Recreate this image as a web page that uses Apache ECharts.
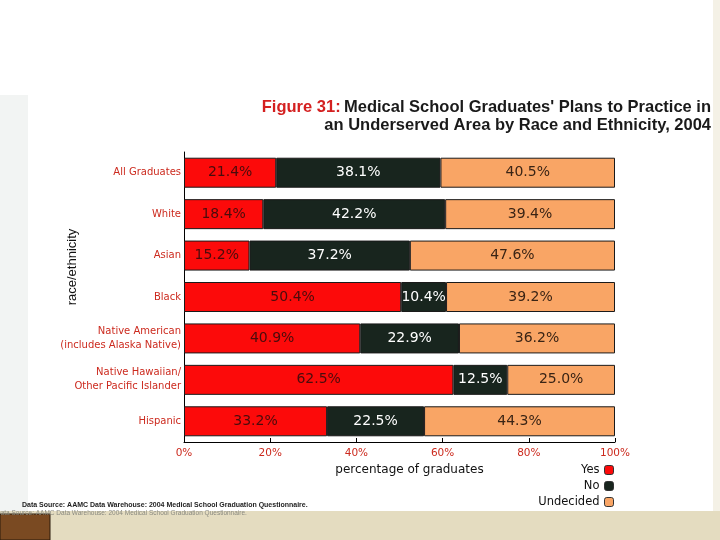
<!DOCTYPE html>
<html><head><meta charset="utf-8">
<script src="https://cdn.jsdelivr.net/npm/echarts@6/dist/echarts.min.js"></script>
<style>html,body{margin:0;padding:0;background:#fff}#c{width:720px;height:540px}</style>
</head><body><div id="c"></div>
<script>
var categories = ['All Graduates','White','Asian','Black','Native American\n(includes Alaska Native)','Native Hawaiian/\nOther Pacific Islander','Hispanic'];
var yesValues = [21.4, 18.4, 15.2, 50.4, 40.9, 62.5, 33.2];
var noValues = [38.1, 42.2, 37.2, 10.4, 22.9, 12.5, 22.5];
var undecidedValues = [40.5, 39.4, 47.6, 39.2, 36.2, 25.0, 44.3];
var seriesNames = ['Yes','No','Undecided'];
var xTicks = [0, 20, 40, 60, 80, 100];

var chart = echarts.init(document.getElementById('c'));
var FONT = 'DejaVu Sans';
function mk(name, data, color, labelColor) {
  return {
    name: name, type: 'bar', stack: 'all', data: data, barWidth: 30,
    itemStyle: { color: color, borderColor: '#1a1a1a', borderWidth: 1 },
    label: { show: true, position: 'inside', color: labelColor, fontFamily: FONT, fontSize: 14,
      formatter: function (p) { return p.value.toFixed(1) + '%'; } }
  };
}
var titleFont = { fontFamily: 'Liberation Sans', fontWeight: 'bold', fontSize: 16.5 };
chart.setOption({
  animation: false,
  backgroundColor: '#ffffff',
  graphic: [
    { type: 'rect', shape: { x: 0, y: 95, width: 28, height: 416 }, style: { fill: '#f2f4f3' }, z: -10 },
    { type: 'rect', shape: { x: 713, y: 0, width: 7, height: 540 }, style: { fill: '#f4f1e6' }, z: -10 },
    { type: 'rect', shape: { x: 0, y: 511, width: 720, height: 29 }, style: { fill: '#e4dcc0' }, z: -10 },
    { type: 'rect', shape: { x: 0, y: 514, width: 50, height: 26 }, style: { fill: '#7a4a22', stroke: '#2a1a0a', lineWidth: 1 }, z: -9 },
    { type: 'text', left: 22, top: 502, style: { text: 'Data Source: AAMC Data Warehouse: 2004 Medical School Graduation Questionnaire.', fontFamily: 'Liberation Sans Narrow, Liberation Sans', fontSize: 7, fontWeight: 'bold', fill: '#222' } },
    { type: 'text', left: -4, top: 510, style: { text: 'Data Source: AAMC Data Warehouse: 2004 Medical School Graduation Questionnaire.', fontFamily: 'Liberation Sans Narrow, Liberation Sans', fontSize: 6.5, fill: '#8a8a80' } },
    { type: 'text', right: 9, top: 99, style: {
      text: '{r|Figure 31:} {b|Medical School Graduates\' Plans to Practice in}',
      rich: { r: Object.assign({ fill: '#d42020' }, titleFont), b: Object.assign({ fill: '#1a1a1a' }, titleFont) } } },
    { type: 'text', right: 9, top: 117, style: Object.assign({
      text: 'an Underserved Area by Race and Ethnicity, 2004', fill: '#1a1a1a' }, titleFont) }
  ],
  grid: { left: 184, right: 105, top: 152, bottom: 98 },
  legend: {
    data: seriesNames, orient: 'vertical', right: 101, top: 459, align: 'right',
    itemWidth: 9, itemHeight: 9, itemGap: 4,
    itemStyle: { borderColor: '#333', borderWidth: 1 },
    textStyle: { fontFamily: FONT, fontSize: 11.5, color: '#111' }
  },
  xAxis: {
    type: 'value', min: 0, max: 100, interval: 20,
    name: 'percentage of graduates', nameLocation: 'middle', nameGap: 20,
    nameTextStyle: { fontFamily: FONT, fontSize: 12, color: '#111', padding: [0, 0, 0, 20] },
    axisLine: { show: true, lineStyle: { color: '#000', width: 1 } },
    axisTick: { show: true, inside: true, length: 4, lineStyle: { color: '#000' } },
    splitLine: { show: false },
    axisLabel: { fontFamily: FONT, fontSize: 10.5, color: '#cc2a1e', margin: 6,
      formatter: function (v) { return v + '%'; } }
  },
  yAxis: {
    type: 'category', data: categories, inverse: true,
    name: 'race/ethnicity', nameLocation: 'middle', nameGap: 105, nameRotate: 90,
    nameMoveOverlap: false,
    nameTextStyle: { fontFamily: 'Liberation Sans Narrow, Liberation Sans', fontSize: 13, color: '#111', padding: [0, 0, 0, 60] },
    axisLine: { show: true, lineStyle: { color: '#000', width: 1 } },
    axisTick: { show: false },
    axisLabel: { fontFamily: FONT, fontSize: 10, color: '#cc2a1e', margin: 3, lineHeight: 14 }
  },
  series: [
    mk(seriesNames[0], yesValues, '#fc0a0a', '#4a0c0c'),
    mk(seriesNames[1], noValues, '#18251e', '#ffffff'),
    mk(seriesNames[2], undecidedValues, '#f9a565', '#3a2415')
  ]
});
</script></body></html>
